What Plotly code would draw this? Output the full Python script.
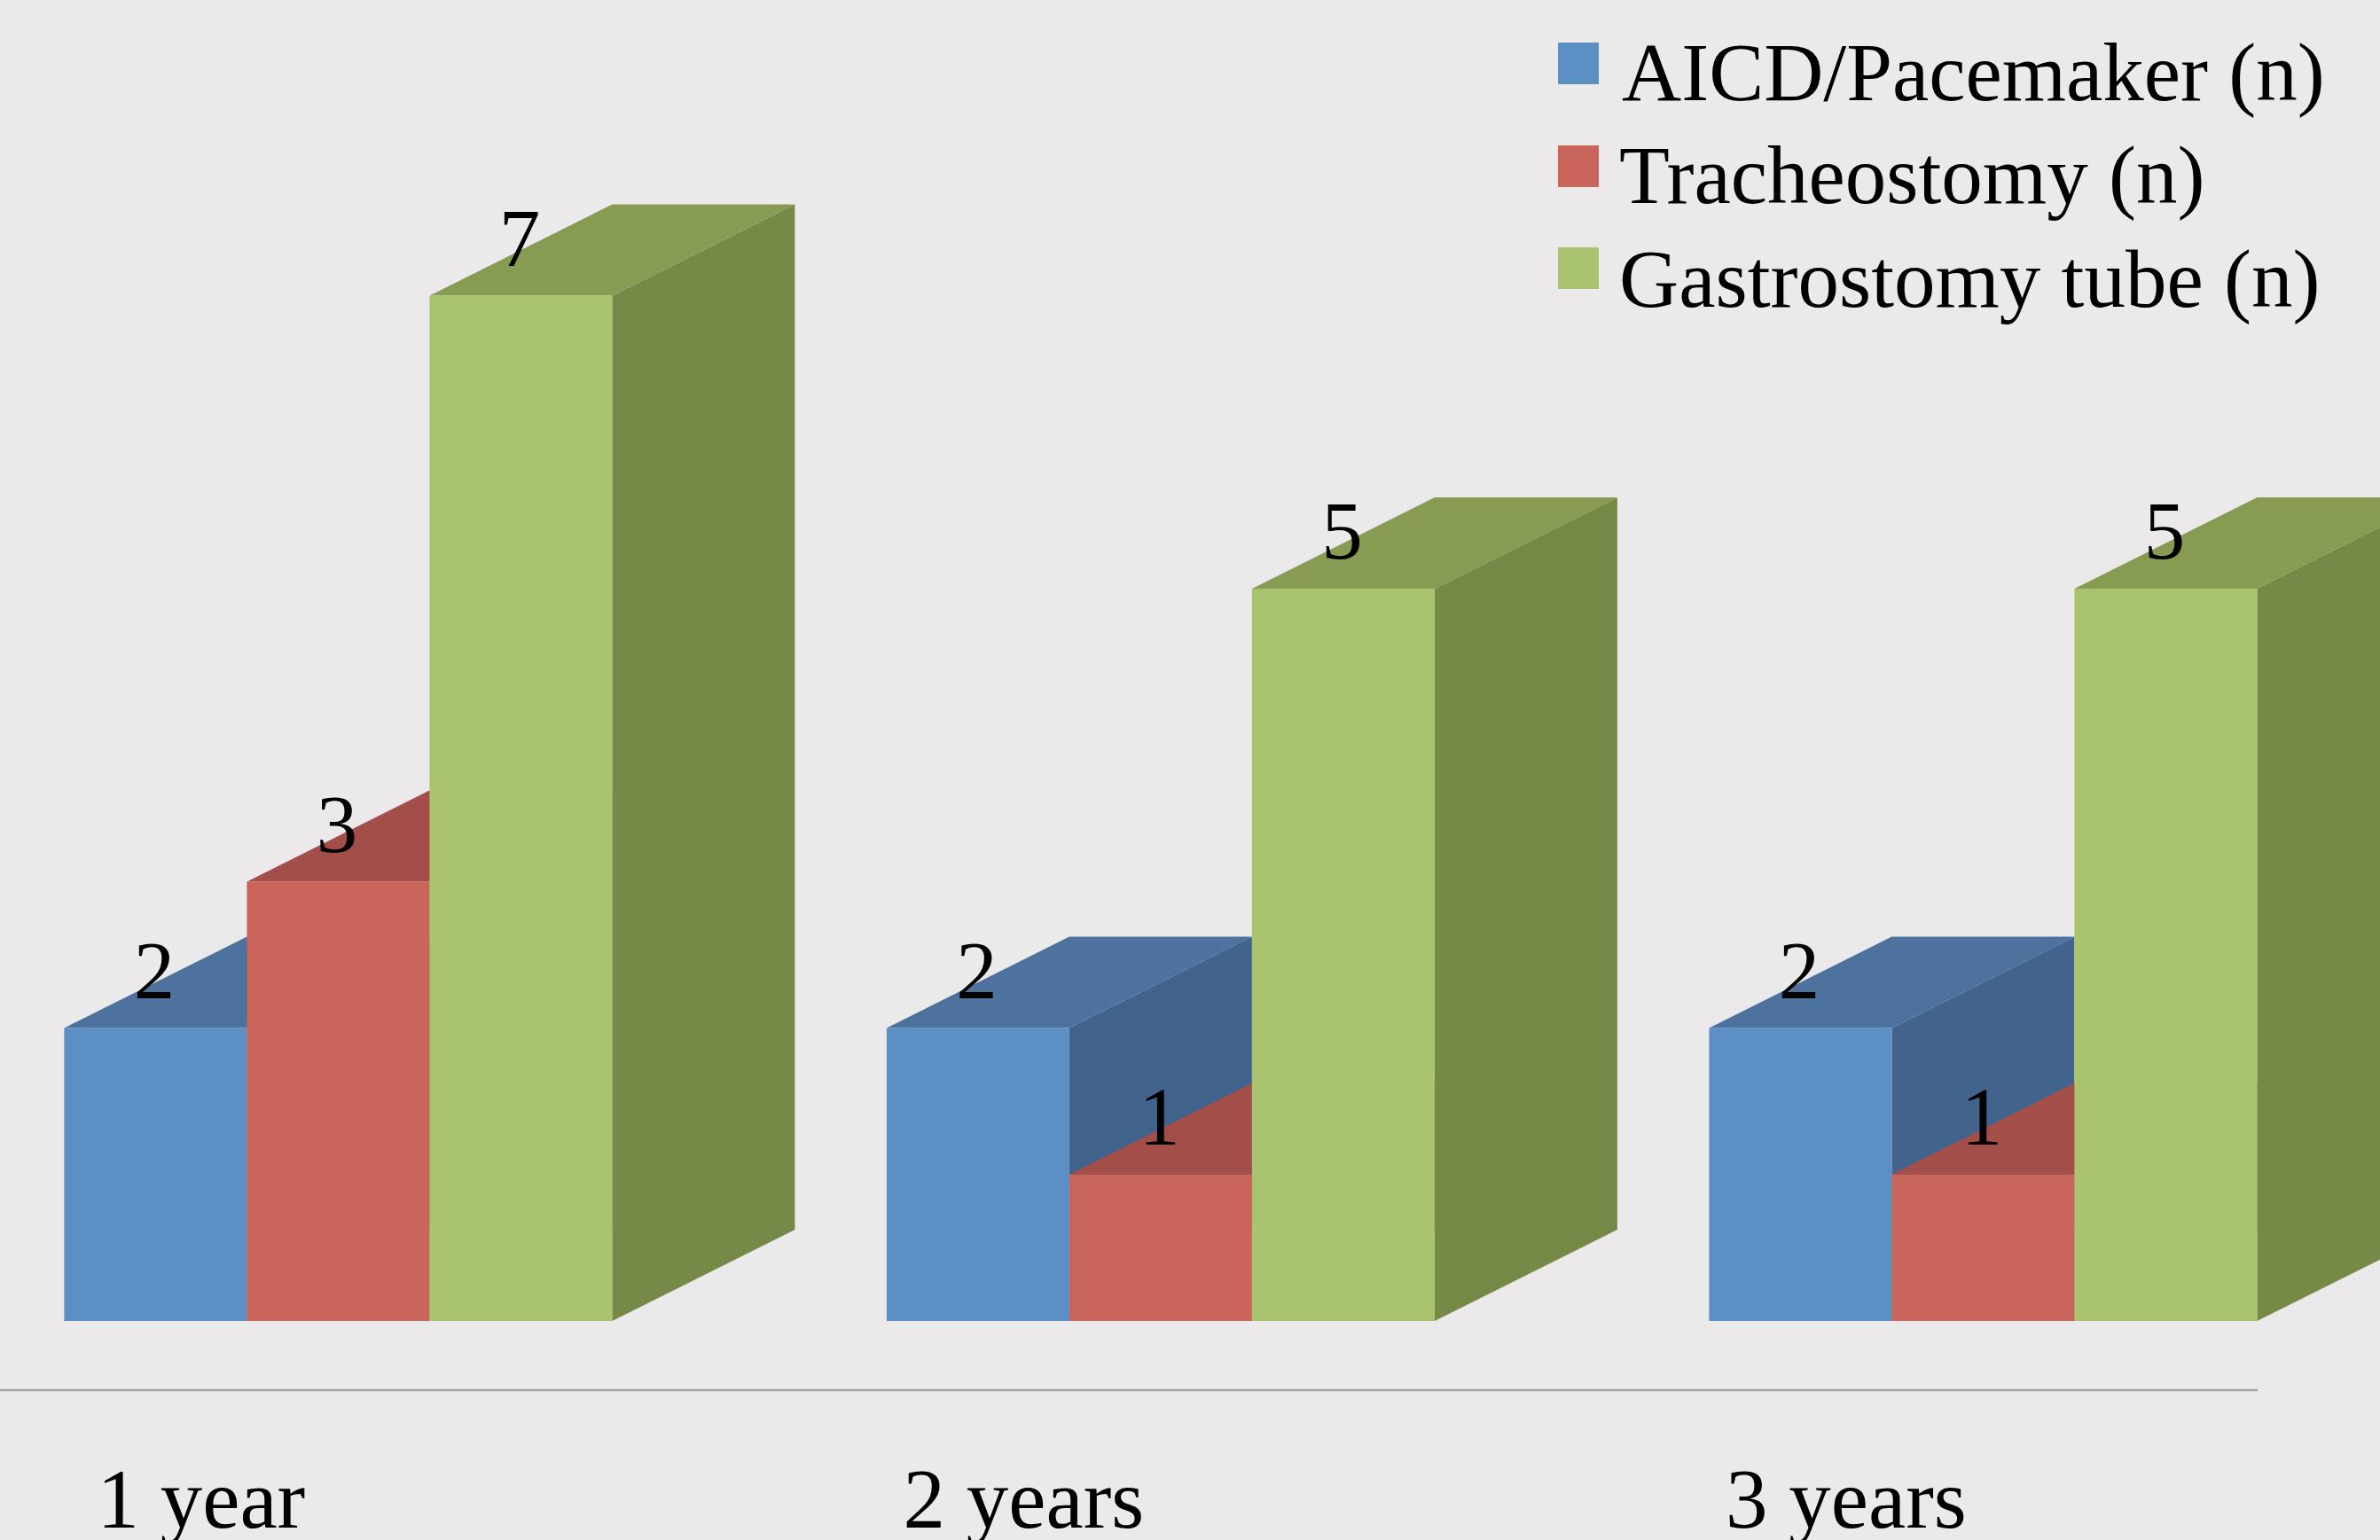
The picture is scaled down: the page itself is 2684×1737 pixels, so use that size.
import plotly.graph_objects as go

categories = ["1 year", "2 years", "3 years"]
series_names = ["AICD/Pacemaker (n)", "Tracheostomy (n)", "Gastrostomy tube (n)"]
aicd = [2, 2, 2]
trach = [3, 1, 1]
gastro = [7, 5, 5]
series_values = [aicd, trach, gastro]

front_colors = ["#5C90C5", "#CA655C", "#A9C36E"]
top_colors = ["#4D729E", "#A34E48", "#889B53"]
side_colors = ["#41638C", "#8A423D", "#768A47"]
BG = "#ECE9EA"
FONT = "Liberation Serif"

W, H = 2684, 1737
PX_PER_GROUP = 927.5
PX_PER_UNIT = 165.2
CENTER0 = 381.4
BASE = 1490.0
AXIS_Y = 1568.0

x_range = [-CENTER0 / PX_PER_GROUP, (W - CENTER0) / PX_PER_GROUP]
y_range = [-(AXIS_Y - BASE) / PX_PER_UNIT, BASE / PX_PER_UNIT]
bar_w = 206.0 / PX_PER_GROUP
depth_x = bar_w
depth_y = 103.0 / PX_PER_UNIT
label_shift = -154.5 / PX_PER_GROUP

fig = go.Figure()


def poly(pts_list, color, name):
    xs, ys = [], []
    for pts in pts_list:
        xs += [p[0] for p in pts] + [pts[0][0], None]
        ys += [p[1] for p in pts] + [pts[0][1], None]
    fig.add_trace(go.Scatter(x=xs, y=ys, mode="lines", fill="toself", fillcolor=color,
                             line=dict(width=0, color=color), name=name,
                             showlegend=False, hoverinfo="skip", xaxis="x", yaxis="y"))


# Receding faces sit on the base axes, drawn back series first
for i, vals in enumerate(series_values):
    tops, sides = [], []
    for g, v in enumerate(vals):
        x0 = g + (i - 1.5) * bar_w
        x1 = x0 + bar_w
        tops.append([(x0, v), (x1, v), (x1 + depth_x, v + depth_y), (x0 + depth_x, v + depth_y)])
        sides.append([(x1, 0), (x1, v), (x1 + depth_x, v + depth_y), (x1 + depth_x, depth_y)])
    poly(sides, side_colors[i], series_names[i] + " side")
    poly(tops, top_colors[i], series_names[i] + " top")

# Front faces on an overlaying pair of axes
for i, vals in enumerate(series_values):
    fig.add_trace(go.Bar(x=list(range(len(categories))), y=vals, name=series_names[i],
                         marker=dict(color=front_colors[i], line=dict(width=0)),
                         showlegend=False, xaxis="x2", yaxis="y2"))

# Value labels
LABEL_LIFT = 57.0 / PX_PER_UNIT
LABEL_NUDGE = -1.5 / PX_PER_GROUP
for i, vals in enumerate(series_values):
    fig.add_trace(go.Scatter(x=[g + (i - 1) * bar_w + LABEL_NUDGE for g in range(len(vals))],
                             y=[v + LABEL_LIFT for v in vals],
                             mode="text", text=[str(v) for v in vals], textposition="middle center",
                             textfont=dict(family=FONT, size=93, color="black"),
                             showlegend=False, hoverinfo="skip", cliponaxis=False,
                             xaxis="x2", yaxis="y2"))

shapes = [dict(type="line", xref="paper", yref="paper", x0=0, x1=2546 / W,
               y0=(H - AXIS_Y) / H, y1=(H - AXIS_Y) / H,
               line=dict(color="#A3A3A3", width=2.5))]
annotations = []
legend_tops = [48, 164, 279]
legend_text_mid = [81, 198, 315]
legend_text_x = [1826.5, 1823.5, 1823.5]
for name, color, ty, tm, tx in zip(series_names, front_colors, legend_tops, legend_text_mid, legend_text_x):
    shapes.append(dict(type="rect", xref="paper", yref="paper", x0=1757 / W, x1=1803 / W,
                       y0=(H - ty) / H, y1=(H - ty - 47) / H,
                       fillcolor=color, line=dict(width=0)))
    annotations.append(dict(text=name, xref="paper", yref="paper", x=tx / W, y=(H - tm) / H,
                            xanchor="left", yanchor="middle", showarrow=False,
                            font=dict(family=FONT, size=93, color="black")))

common = dict(showgrid=False, zeroline=False, automargin=False)
fig.update_layout(
    width=W, height=H, margin=dict(l=0, r=0, t=0, b=0),
    paper_bgcolor=BG, plot_bgcolor=BG, showlegend=False,
    barmode="group", bargap=1 - 3 * bar_w, bargroupgap=0,
    shapes=shapes, annotations=annotations,
    xaxis=dict(domain=[0, 1], range=x_range, tickmode="array",
               tickvals=[g + label_shift for g in range(len(categories))], ticktext=categories,
               tickfont=dict(family=FONT, size=95, color="black"),
               ticks="outside", ticklen=40, tickcolor="rgba(0,0,0,0)", showline=False, **common),
    yaxis=dict(domain=[(H - AXIS_Y) / H, 1], range=y_range, visible=False, **common),
    xaxis2=dict(overlaying="x", range=x_range, visible=False, **common),
    yaxis2=dict(overlaying="y", range=y_range, visible=False, **common),
)

fig.write_html("out.html", config=dict(displayModeBar=False), post_script=(
    "document.body.style.margin='0';document.body.style.overflow='hidden';"
    "document.body.style.background='%s';" % BG))
